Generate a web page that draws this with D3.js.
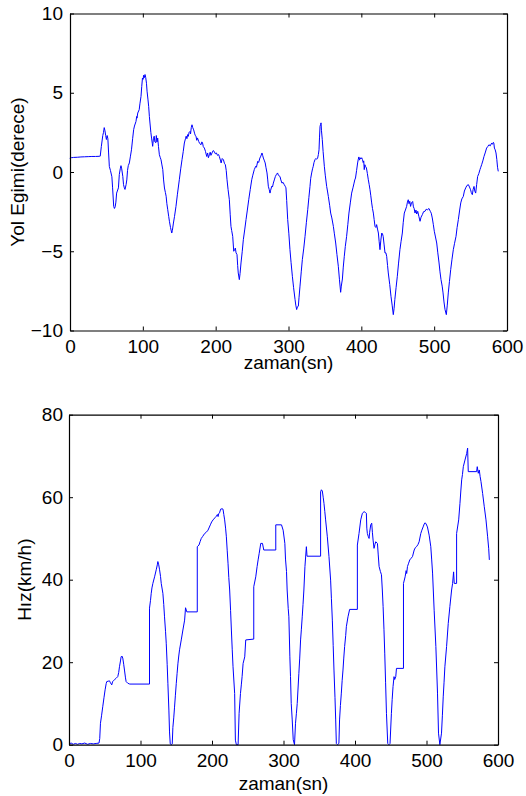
<!DOCTYPE html>
<html>
<head>
<meta charset="utf-8">
<script src="https://cdn.jsdelivr.net/npm/d3@7"></script>
<style>
  body { margin: 0; background: #fff; }
  text { font-family: "Liberation Sans", Arial, sans-serif; }
</style>
</head>
<body>
<script>
// ---- data ----
// road grade [time (sn), grade (derece)]
var egimData = [
  [0,0.85],[1,0.95],[2,0.9],[5,0.92],[10,0.93],[15,0.95],[20,0.96],[25,0.97],[30,0.98],[35,0.98],[40,0.99],[41.5,1.0],
  [43,1.6],[45,2.3],[46,2.5],[47,2.8],[48,2.6],[49,2.3],[50,2.05],[51,2.3],[52,2.1],[53,1.2],[54,0.35],[55.5,0.1],[57.5,-0.3],
  [58.5,-1.0],[60,-2.17],[61,-2.3],[62,-2.2],[63,-1.9],[64,-1.33],[65,-1.2],[66.5,-1.0],[67.7,-0.16],[69,0.2],[70,0.4],[71,0.2],
  [72.5,-0.28],[73.5,-0.8],[74.6,-1.0],[75.5,-1.1],[77,-0.8],[78,-0.5],[79,0.1],[80,0.4],[81.5,0.57],[83,1.0],[84.4,1.4],[86,2.1],
  [87.4,2.67],[88.5,2.9],[90.6,3.19],[91.5,3.5],[92,3.4],[93,3.72],[95,3.93],[96,4.3],[97.5,4.77],[98.5,5.4],[99.5,5.93],
  [100.5,5.85],[101,6.1],[102,5.95],[103,6.15],[104,5.95],[105,5.6],[105.8,5.1],[107,4.6],[108,4.14],[109,3.5],[109.8,3.09],
  [111,2.5],[112,2.14],[113,1.8],[113.5,1.62],[114.5,2.1],[115.6,2.26],[116.5,1.9],[117.9,1.85],[118.5,2.3],[119.5,1.9],
  [120.4,2.14],[121.5,1.6],[122.7,1.09],[124,0.9],[125,0.77],[126,0.5],[127.4,0.15],[128.5,-0.5],[129.7,-1.01],[131,-1.3],
  [132,-1.53],[133,-2.0],[134.2,-2.38],[135.5,-2.8],[136.5,-3.11],[138,-3.5],[139.7,-3.85],[140.5,-3.7],[142,-3.22],[143.5,-2.8],
  [145.5,-2.17],[147.5,-1.4],[150.1,-0.49],[152,0.2],[153.8,0.78],[155.5,1.3],[157,1.83],[158.5,2.1],[159.5,2.26],[160.5,2.1],
  [161.5,2.36],[162.5,2.25],[163.5,2.5],[164.8,2.56],[165.5,2.4],[166.5,2.8],[167.5,2.98],[168.5,2.8],[169.8,2.66],[171,2.45],
  [172,2.3],[173,2.26],[174,2.0],[175,2.15],[176.7,1.93],[178,1.8],[179.9,1.72],[181,1.9],[182,1.83],[183,1.6],[184.5,1.51],
  [186,1.3],[187.7,0.98],[189,1.2],[190,0.9],[191.4,1.09],[192.5,1.25],[193.5,1.05],[195,1.2],[196.5,1.35],[198,1.3],
  [199.5,1.15],[201,1.2],[202.5,1.05],[204,1.1],[205,0.98],[206.5,0.75],[207.5,0.57],[209,0.85],[210.7,0.77],[212,0.55],
  [213.3,0.46],[214.5,0.1],[215.6,-0.49],[217,-1.1],[218.8,-1.75],[220,-2.7],[221,-3.43],[222,-3.7],[223.4,-4.06],[224.8,-5.0],
  [226,-4.9],[227,-4.8],[228,-5.1],[229.3,-5.21],[230.2,-5.9],[231,-6.37],[232.5,-6.79],[233.5,-6.4],[234.8,-5.74],[236.5,-5.0],
  [238,-4.27],[240,-3.6],[241.7,-3.0],[243.5,-2.4],[245.4,-1.75],[247.5,-1.1],[249.5,-0.49],[251,-0.2],[253,0.15],[255,0.36],
  [256,0.3],[257.7,0.67],[259,0.6],[260.7,0.88],[262,1.0],[263.6,1.2],[264.5,1.05],[265.5,0.88],[267,0.7],[268,0.57],[269,0.3],
  [270.5,-0.06],[271.5,-0.5],[272.3,-0.9],[273.5,-1.1],[274.6,-1.33],[275.5,-1.15],[277,-0.9],[278,-0.95],[279.2,-0.7],
  [280.5,-0.5],[282,-0.28],[283.5,-0.15],[285,-0.06],[286,-0.2],[288.3,-0.28],[289.5,-0.5],[291,-0.7],[292.5,-0.65],
  [294.2,-0.8],[295.5,-0.9],[296.5,-1.0],[297.5,-1.8],[298.9,-3.0],[300.5,-3.9],[302,-4.9],[303.5,-5.7],[305.3,-6.58],
  [307,-7.3],[309,-8.05],[310,-8.4],[311.2,-8.68],[312.3,-8.5],[313.5,-8.47],[314.5,-7.9],[315.8,-7.2],[317.5,-6.3],
  [319,-5.53],[321,-4.8],[322.7,-4.06],[324.5,-3.2],[326.4,-2.38],[328,-1.6],[329.5,-0.91],[330.5,-0.4],[331.8,-0.06],
  [333,0.2],[334,0.36],[335,0.6],[336.4,0.78],[337.5,0.85],[338.5,0.8],[340,0.88],[341,1.1],[341.9,1.4],[342.6,2.2],
  [343.3,2.88],[344,3.0],[344.7,3.1],[345.3,2.6],[346.4,2.04],[347.5,1.3],[349.2,0.36],[350.5,-0.2],[352.4,-0.91],
  [353.5,-1.2],[354.7,-1.54],[356.5,-2.1],[357.9,-2.59],[359.5,-2.9],[361.6,-3.43],[363,-3.9],[364.8,-4.48],[366.5,-5.2],
  [368.4,-5.95],[370,-6.8],[371.6,-7.59],[372.5,-7.2],[374,-6.75],[375.2,-6.0],[376.6,-5.32],[378,-4.7],[379.8,-4.06],
  [381.5,-3.3],[383,-2.59],[385,-1.9],[386.7,-1.33],[388.5,-1.0],[390,-0.7],[391,-0.5],[392,-0.38],[393.5,0.1],[394.9,0.57],
  [395.8,0.8],[396.6,0.95],[397.5,0.75],[398.5,0.9],[399.4,0.82],[400.5,0.9],[401.6,0.78],[402.5,0.6],[403.3,0.7],[404,0.15],
  [404.8,0.46],[405.8,0.35],[407,0.25],[408.3,-0.1],[409.6,-0.49],[410.8,-0.8],[411.9,-1.12],[413,-1.5],[414.2,-1.95],
  [415.3,-2.3],[416.5,-2.59],[417.6,-3.0],[418.8,-3.43],[420,-3.5],[421,-3.32],[422.2,-3.6],[423.4,-3.85],[424.5,-4.4],
  [425.6,-4.9],[426.8,-4.3],[428,-3.85],[429,-3.9],[430,-4.06],[431.3,-4.6],[432.5,-5.11],[433.7,-5.1],[434.8,-5.32],
  [436,-5.9],[437,-6.37],[439,-7.1],[440.7,-7.84],[442.3,-8.4],[443.9,-9.0],[445,-8.6],[446,-8.05],[447.7,-7.3],[449.4,-6.58],
  [451,-5.8],[453,-4.9],[454.5,-4.4],[456.3,-3.85],[457.5,-3.2],[459,-2.59],[460.5,-2.4],[462.2,-2.17],[463.3,-1.9],
  [464.4,-1.75],[465.5,-2.0],[466.5,-1.85],[467.6,-2.17],[468.8,-1.95],[470.5,-1.86],[471.5,-2.2],[472.5,-2.3],[473.7,-2.59],
  [475,-2.4],[476,-2.65],[477.4,-2.48],[479,-2.8],[480.6,-3.11],[482,-2.85],[483.8,-2.69],[485.5,-2.5],[487.4,-2.48],
  [489,-2.35],[491,-2.38],[492.8,-2.3],[494.7,-2.48],[496,-2.6],[497.4,-2.9],[498.8,-3.3],[500.2,-3.74],[501.8,-4.1],
  [503.5,-4.48],[505,-5.1],[506.7,-5.74],[508,-6.3],[509.4,-6.79],[511,-7.2],[512.2,-7.63],[513.5,-8.2],[514.9,-8.68],
  [516.7,-9.0],[518,-8.4],[519.4,-7.63],[521,-6.9],[522.7,-6.16],[524.5,-5.5],[526.3,-4.9],[528,-4.5],[530,-4.06],
  [531.5,-3.5],[533.2,-3.0],[535,-2.4],[536.5,-1.95],[538,-1.7],[540,-1.54],[541.5,-1.2],[543.3,-1.0],[545,-0.85],
  [547,-0.8],[548.5,-0.95],[550,-1.12],[551,-1.3],[552.4,-1.43],[553.5,-1.1],[554.7,-0.91],[555.8,-1.2],[557,-1.33],
  [558.3,-0.8],[559.7,-0.28],[561.3,-0.1],[562.9,0.15],[564,0.3],[565.2,0.46],[566.8,0.7],[568.4,0.98],[570,1.2],
  [572,1.51],[573.5,1.6],[575.2,1.72],[577,1.65],[579,1.83],[580.2,1.75],[581.3,1.87],[582,1.8],[582.7,1.51],[583.8,1.4],
  [584.9,1.2],[586,0.8],[587,0.3],[588,0.04]
];

// vehicle speed [time (sn), speed (km/h)]
var hizData = [
  [0,0.2],[3,0.4],[6,0.1],[9,0.3],[12,0.1],[15,0.3],[18,0.2],[22,0.4],[26,0.1],[30,0.3],[34,0.2],[38,0.3],[42,0.4],
  [43,1.5],[44,5.2],[45.5,7],[47.2,9.2],[49,11.5],[50.5,13.3],[52,14.8],[52.8,15.3],[55,15.4],[56.5,15.5],[58,15.0],
  [59.8,14.5],[61,15.3],[62,15.5],[64,15.8],[65.9,16.1],[68.2,16.5],[69.5,17.5],[70.6,18.9],[72,20.3],[72.9,21.3],[74,21.5],
  [75.2,21.0],[76.5,19.5],[77.6,18.1],[79,16.2],[79.9,15.3],[82.2,14.9],[85,14.7],[112.6,14.7],[112.6,33.1],[114,35],
  [115,36.7],[116,38],[117.3,39.1],[119.7,40.7],[122,42.4],[123.5,43.6],[124.3,44.4],[125.5,43.6],[126.7,42.4],[128,40.8],
  [129,39.1],[131.3,36.7],[132.5,34],[133.6,31.0],[135,27.5],[136,24.6],[137.3,19.5],[138.3,14.9],[139.7,8.4],[140.6,3.1],
  [141.6,0.2],[143,0],[144.4,0.2],[145.3,4.2],[146.5,6.5],[147.6,9.1],[148.8,12],[150,14.8],[151.2,17.3],[152.3,19.6],
  [153.5,21.5],[154.6,23.0],[157,25.4],[159.3,27.8],[161.7,30.2],[163,33.2],[164.8,32.2],[179.4,32.2],[179.4,48.0],
  [181.8,48.4],[183.5,49.3],[185,50.0],[187,50.5],[189.7,51.2],[192,51.5],[194.4,52.0],[197.7,53.3],[199.5,54],[201.5,54.5],
  [204,55],[206.1,55.4],[207.5,55.8],[208.5,55.3],[209.4,56],[210.5,56.2],[212.1,57.1],[214,57.2],[215.4,57.1],[216.5,55.8],
  [217.7,54.5],[219,52.5],[220.1,50.4],[221.3,47],[222.4,44.0],[223.5,40.5],[224.7,37.5],[226,32.5],[227.1,27.8],[228.3,23],
  [229.4,18.9],[231.7,12.4],[232.7,1.1],[234.1,0],[236.5,0],[237.9,7.6],[239.8,12.4],[241,14.5],[242.1,16.5],[243.5,19.7],
  [245.8,21.3],[247.2,25.4],[258.4,25.6],[258.4,38.3],[261.2,40.7],[263.1,43.2],[264.5,44.8],[266,46.4],[268.2,48.8],
  [270.6,48.8],[272.4,47.2],[289.2,47.2],[289.2,53.3],[297.2,53.3],[299.5,52.0],[301.9,48.8],[302.8,45],[304.2,42],
  [305.1,37.5],[306.6,33],[307.5,31.0],[308.9,21.3],[309.8,16.5],[310.8,10],[312.2,6.0],[313.6,1.2],[315.4,0],[316.8,5.2],
  [318,7.5],[319.2,10.0],[320.3,13.5],[321.5,17.3],[322.7,21],[323.9,25.4],[325,28],[326.2,31.0],[327.3,34],[328.5,37.5],
  [330,43.2],[332,48.0],[332.9,45.7],[351.9,45.7],[351.9,61.3],[353,61.8],[354.3,61.5],[355.5,60],[356.6,58.5],[357.8,56.5],
  [358.9,54.5],[361.3,50.4],[363.6,45.6],[365.9,39.9],[367,35.5],[368.3,30.2],[369.5,24],[370.6,18.1],[372,11.5],[373,6.0],
  [373.9,0.3],[375.5,0],[377.5,0.3],[378.4,6.0],[379.6,9.5],[380.9,12.5],[382,15.5],[383.2,18.1],[384.3,21],[385.5,23.8],
  [387,26.5],[387.9,28.6],[390.2,31.0],[392.5,32.8],[403.3,32.8],[403.3,48.4],[405.6,51.2],[408,54.5],[410.3,56.1],
  [412.7,56.5],[414.5,56.3],[415.9,56.1],[416.5,52.5],[417.3,51.2],[418.5,50.5],[419.7,50.0],[420.5,51.5],[422,53.3],
  [423.4,53.7],[424.3,51.5],[425.3,49.6],[426.6,47.6],[427.8,48.5],[429,49.2],[431.4,48.8],[432.5,46],[433.7,43.2],
  [435.5,42],[437,41.2],[438.2,37.5],[439.3,33.5],[440.5,28],[441.6,22.2],[442.8,15],[444,7.6],[445.8,0.3],[447.5,0],
  [449,0.3],[450.9,7.6],[452,11],[453.2,14.1],[454.6,16.5],[455.5,15.8],[457,16.5],[458,18.5],[467.8,18.5],[467.8,39.1],
  [470.1,40.7],[471.5,42.2],[472.3,41.5],[473.4,43.2],[475,44],[476.6,44.8],[478.5,45.2],[480.4,45.6],[482.8,47.2],
  [484.5,47.8],[486,48.0],[488,48.5],[489.7,49.2],[492,51.2],[493.5,52],[495.3,52.8],[496.8,53.5],[498.1,53.8],[499.5,53.5],
  [501.3,52.8],[503.7,50.8],[506,48.0],[507.2,45],[508.5,41.6],[510.7,32.6],[513.1,23.8],[515.4,12.5],[516.8,2.8],
  [518.7,0],[521,2.8],[522.2,7],[523.4,11.6],[524.5,15],[525.7,18.9],[528.1,23.8],[530.4,29.4],[532.7,33.5],[535.1,37.5],
  [536.5,39.1],[537.9,41.9],[538.8,39.1],[542.1,39.1],[542.1,51.2],[545,54.5],[546.8,58.5],[548,61.5],[549.2,64.2],
  [550.3,65.5],[551.5,67.4],[553.8,69.0],[556.2,70.6],[557.5,71.9],[558.4,66.2],[570.1,66.2],[571,67.4],[572.4,65.8],
  [573.8,66.6],[575,65],[576.2,63.8],[578.5,60.9],[580.8,57.7],[583.2,54.5],[585.5,50.4],[587,47.5],[587.9,44.8]
];

var xTicks = [0, 100, 200, 300, 400, 500, 600];
var egimTicks = [-10, -5, 0, 5, 10];
var hizTicks = [0, 20, 40, 60, 80];

var svg = d3.select("body").append("svg")
    .attr("width", 526)
    .attr("height", 796);

// draws one MATLAB style panel (box, inward ticks on all 4 sides)
function panel(opts) {
    var x = d3.scaleLinear().domain([0, 600]).range([opts.left, opts.right]);
    var y = d3.scaleLinear().domain(opts.yDomain).range([opts.bottom, opts.top]);
    var g = svg.append("g");

    var line = d3.line()
        .x(function(d) { return x(d[0]); })
        .y(function(d) { return y(d[1]); });

    g.append("path")
        .datum(opts.data)
        .attr("fill", "none")
        .attr("stroke", "#0000ff")
        .attr("stroke-width", 1)
        .attr("stroke-linejoin", "round")
        .attr("d", line);

    var fs = "19px";

    // bottom axis with labels
    var xb = g.append("g")
        .attr("transform", "translate(0," + opts.bottom + ")")
        .call(d3.axisBottom(x).tickValues(xTicks).tickSizeInner(-4).tickSizeOuter(0).tickPadding(opts.xPad));
    // top axis, ticks only
    var xt = g.append("g")
        .attr("transform", "translate(0," + opts.top + ")")
        .call(d3.axisTop(x).tickValues(xTicks).tickSizeInner(-4).tickSizeOuter(0).tickFormat(""));
    // left axis with labels
    var yl = g.append("g")
        .attr("transform", "translate(" + opts.left + ",0)")
        .call(d3.axisLeft(y).tickValues(opts.yTicks).tickSizeInner(-4).tickSizeOuter(0).tickPadding(opts.yPad));
    // right axis, ticks only
    var yr = g.append("g")
        .attr("transform", "translate(" + opts.right + ",0)")
        .call(d3.axisRight(y).tickValues(opts.yTicks).tickSizeInner(-4).tickSizeOuter(0).tickFormat(""));

    [xb, xt, yl, yr].forEach(function(a) {
        a.selectAll("path.domain").attr("stroke", "#000").attr("stroke-width", 1.2);
        a.selectAll(".tick line").attr("stroke", "#000");
        a.selectAll("text")
            .attr("fill", "#000")
            .style("font-size", fs)
            .style("font-family", "'Liberation Sans', Arial, sans-serif");
    });

    // x label
    g.append("text")
        .attr("x", (opts.left + opts.right) / 2)
        .attr("y", opts.xLabelY)
        .attr("text-anchor", "middle")
        .style("font-size", fs)
        .text("zaman(sn)");

    // y label
    g.append("text")
        .attr("transform", "translate(" + opts.yLabelX + "," + ((opts.top + opts.bottom) / 2) + ") rotate(-90)")
        .attr("text-anchor", "middle")
        .attr("dy", "0.35em")
        .style("font-size", fs)
        .text(opts.yLabel);
}

panel({
    data: egimData, yDomain: [-10, 10], yTicks: egimTicks,
    left: 70, right: 507, top: 13.5, bottom: 330.5,
    xPad: 9, yPad: 7, xLabelY: 369, yLabelX: 17,
    yLabel: "Yol Egimi(derece)"
});

panel({
    data: hizData, yDomain: [0, 80], yTicks: hizTicks,
    left: 69, right: 498, top: 414.7, bottom: 744.7,
    xPad: 9, yPad: 6, xLabelY: 790, yLabelX: 24,
    yLabel: "Hız(km/h)"
});
</script>
</body>
</html>
